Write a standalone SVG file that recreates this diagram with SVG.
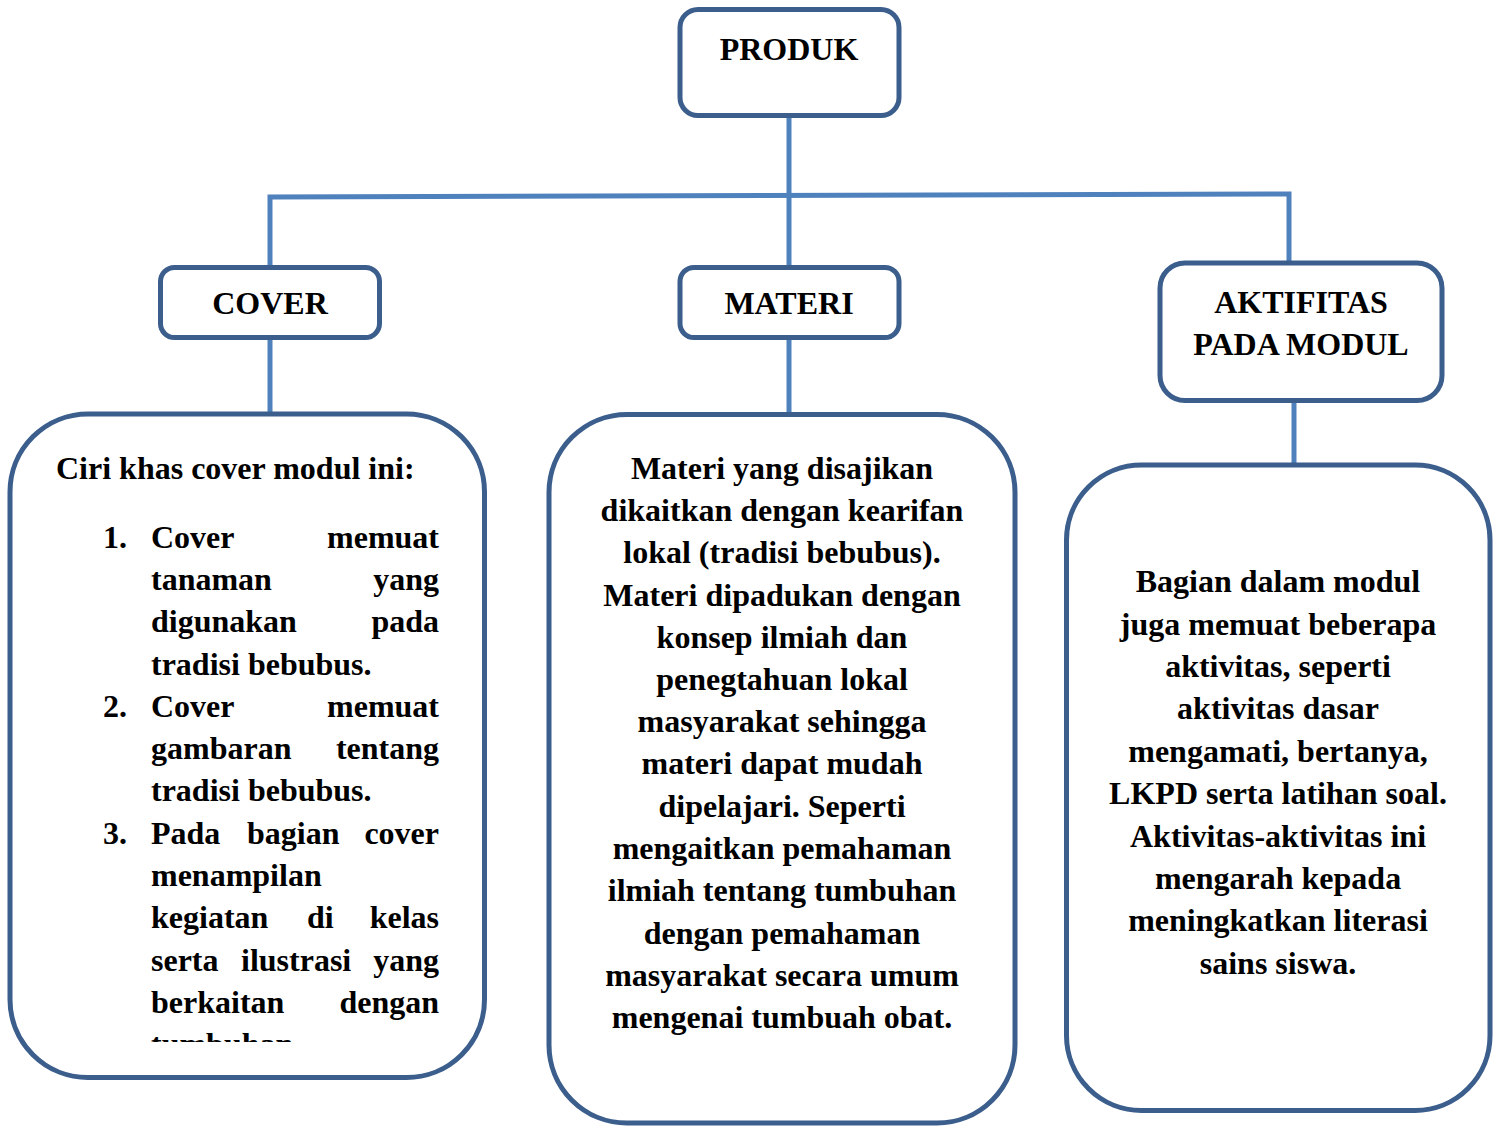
<svg xmlns="http://www.w3.org/2000/svg" width="1496" height="1126" viewBox="0 0 1496 1126">
<style>
.box{fill:#fff;stroke:#3B5E8C;stroke-width:5}
.con{stroke:#4F81BD;stroke-width:5;fill:none}
text{font-family:"Liberation Serif","Times New Roman",serif;font-weight:bold;font-size:32px;fill:#000}
.c{text-anchor:middle}
.e{text-anchor:end}
</style>
<defs>
<clipPath id="clipL"><rect x="0" y="0" width="1496" height="1042"/></clipPath>
</defs>
<rect width="1496" height="1126" fill="#fff"/>
<g id="connectors">
<line class="con" x1="789" y1="116" x2="789" y2="268"/>
<polyline class="con" points="270,268 270,197 1289,194 1289,263"/>
<line class="con" x1="270" y1="338" x2="270" y2="414"/>
<line class="con" x1="789" y1="338" x2="789" y2="415"/>
<line class="con" x1="1294" y1="401" x2="1294" y2="466"/>
</g>
<g id="produk">
<rect class="box" x="680" y="9.5" width="219" height="106" rx="18"/>
<text class="c" x="789" y="60">PRODUK</text>
</g>
<g id="cover">
<rect class="box" x="160.5" y="267.5" width="219" height="70" rx="14"/>
<text class="c" x="270" y="314">COVER</text>
</g>
<g id="materi">
<rect class="box" x="680" y="267.5" width="219" height="70" rx="14"/>
<text class="c" x="789" y="314">MATERI</text>
</g>
<g id="aktifitas">
<rect class="box" x="1160" y="263" width="282" height="137.5" rx="25"/>
<text class="c" x="1301" y="313">AKTIFITAS</text>
<text class="c" x="1301" y="355">PADA MODUL</text>
</g>
<g id="cover-detail">
<rect class="box" x="10" y="414" width="474.5" height="663.5" rx="78"/>
<text x="56" y="479">Ciri khas cover modul ini:</text>
<g clip-path="url(#clipL)">
<text x="103" y="548">1.</text>
<text x="151" y="548">Cover</text><text class="e" x="439" y="548">memuat</text>
<text x="151" y="590">tanaman</text><text class="e" x="439" y="590">yang</text>
<text x="151" y="632">digunakan</text><text class="e" x="439" y="632">pada</text>
<text x="151" y="675">tradisi bebubus.</text>
<text x="103" y="717">2.</text>
<text x="151" y="717">Cover</text><text class="e" x="439" y="717">memuat</text>
<text x="151" y="759">gambaran</text><text class="e" x="439" y="759">tentang</text>
<text x="151" y="801">tradisi bebubus.</text>
<text x="103" y="844">3.</text>
<text x="151" y="844">Pada</text><text x="247" y="844">bagian</text><text class="e" x="439" y="844">cover</text>
<text x="151" y="886">menampilan</text>
<text x="151" y="928">kegiatan</text><text x="307" y="928">di</text><text class="e" x="439" y="928">kelas</text>
<text x="151" y="971">serta</text><text x="241" y="971">ilustrasi</text><text class="e" x="439" y="971">yang</text>
<text x="151" y="1013">berkaitan</text><text class="e" x="439" y="1013">dengan</text>
<text x="151" y="1055">tumbuhan.</text>
</g>
</g>
<g id="materi-detail">
<rect class="box" x="549" y="414.5" width="466" height="708.5" rx="78"/>
<text class="c" x="782" y="479">Materi yang disajikan</text>
<text class="c" x="782" y="521">dikaitkan dengan kearifan</text>
<text class="c" x="782" y="563">lokal (tradisi bebubus).</text>
<text class="c" x="782" y="606">Materi dipadukan dengan</text>
<text class="c" x="782" y="648">konsep ilmiah dan</text>
<text class="c" x="782" y="690">penegtahuan lokal</text>
<text class="c" x="782" y="732">masyarakat sehingga</text>
<text class="c" x="782" y="774">materi dapat mudah</text>
<text class="c" x="782" y="817">dipelajari. Seperti</text>
<text class="c" x="782" y="859">mengaitkan pemahaman</text>
<text class="c" x="782" y="901">ilmiah tentang tumbuhan</text>
<text class="c" x="782" y="944">dengan pemahaman</text>
<text class="c" x="782" y="986">masyarakat secara umum</text>
<text class="c" x="782" y="1028">mengenai tumbuah obat.</text>
</g>
<g id="aktifitas-detail">
<rect class="box" x="1066.5" y="465" width="423.5" height="645.5" rx="75"/>
<text class="c" x="1278" y="592">Bagian dalam modul</text>
<text class="c" x="1278" y="635">juga memuat beberapa</text>
<text class="c" x="1278" y="677">aktivitas, seperti</text>
<text class="c" x="1278" y="719">aktivitas dasar</text>
<text class="c" x="1278" y="762">mengamati, bertanya,</text>
<text class="c" x="1278" y="804">LKPD serta latihan soal.</text>
<text class="c" x="1278" y="847">Aktivitas-aktivitas ini</text>
<text class="c" x="1278" y="889">mengarah kepada</text>
<text class="c" x="1278" y="931">meningkatkan literasi</text>
<text class="c" x="1278" y="974">sains siswa.</text>
</g>
</svg>
